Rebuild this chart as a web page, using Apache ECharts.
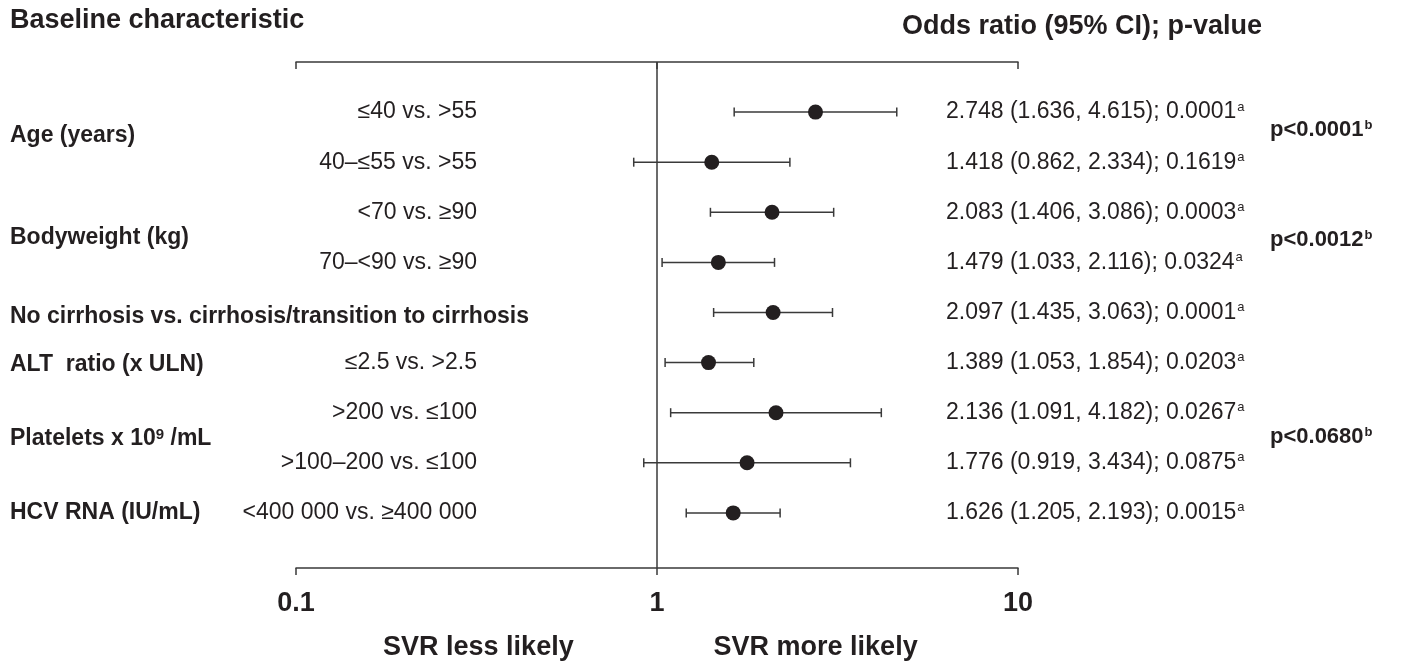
<!DOCTYPE html>
<html><head><meta charset="utf-8">
<script src="https://cdn.jsdelivr.net/npm/echarts@6/dist/echarts.min.js"></script>
<style>html,body{margin:0;padding:0;background:#fff}#c{width:1403px;height:661px}</style>
</head><body><div id="c"></div>
<script>
// ---- data ----
const subLabels = ['≤40 vs. >55','40–≤55 vs. >55','<70 vs. ≥90','70–<90 vs. ≥90','','≤2.5 vs. >2.5','>200 vs. ≤100','>100–200 vs. ≤100','<400 000 vs. ≥400 000'];
const oddsRatio = [2.748,1.418,2.083,1.479,2.097,1.389,2.136,1.776,1.626];
const ciLow     = [1.636,0.862,1.406,1.033,1.435,1.053,1.091,0.919,1.205];
const ciHigh    = [4.615,2.334,3.086,2.116,3.063,1.854,4.182,3.434,2.193];
const pValues   = ['0.0001','0.1619','0.0003','0.0324','0.0001','0.0203','0.0267','0.0875','0.0015'];
const groupNames = ['Age (years)','Bodyweight (kg)','No cirrhosis vs. cirrhosis/transition to cirrhosis','ALT  ratio (x ULN)','Platelets x 10{s|9} /mL','HCV RNA (IU/mL)'];
const groupRows  = [0.48,2.5,4.08,5.05,6.52,8];
const overallP   = ['p<0.0001','p<0.0012','p<0.0680'];
const overallRows= [0.36,2.56,6.48];
const xTicks = [0.1,1,10];

const INK = '#231f20';
const FAM = 'Liberation Sans';
const FONT = '"Liberation Sans", Arial, Helvetica, sans-serif';
const chart = echarts.init(document.getElementById('c'), null, {renderer:'canvas'});
const rows = oddsRatio.map((v,i)=>i);

const axisCommon = {
  type:'log', logBase:10, min:xTicks[0], max:xTicks[xTicks.length-1],
  splitLine:{show:false}, minorTick:{show:false}, minorSplitLine:{show:false},
  axisLine:{show:true, onZero:false, lineStyle:{color:'#3a3a3a', width:1.5}}
};
chart.setOption({
  animation:false,
  grid:{left:296, right:385, top:62, bottom:93},
  xAxis:[
    Object.assign({}, axisCommon, {position:'bottom',
      axisTick:{show:true, inside:false, length:7, lineStyle:{color:'#3a3a3a', width:1.5}},
      axisLabel:{show:true, margin:22, color:INK, fontFamily:FAM, fontWeight:'bold', fontSize:27,
        formatter:v=>String(v)}}),
    Object.assign({}, axisCommon, {position:'top',
      axisTick:{show:true, inside:true, length:7, lineStyle:{color:'#3a3a3a', width:1.5}},
      axisLabel:{show:false}})
  ],
  yAxis:{type:'value', min:-1, max:9.1, inverse:true, show:false, splitLine:{show:false}},
  series:[
    {type:'custom', xAxisIndex:0,
      data: rows.map(i=>[ciLow[i], ciHigh[i], i]),
      renderItem:(params, api)=>{
        const p1 = api.coord([api.value(0), api.value(2)]);
        const p2 = api.coord([api.value(1), api.value(2)]);
        const st = {stroke:'#3a3a3a', lineWidth:1.5};
        const c = 4.5;
        return {type:'group', children:[
          {type:'line', shape:{x1:p1[0],y1:p1[1],x2:p2[0],y2:p2[1]}, style:st},
          {type:'line', shape:{x1:p1[0],y1:p1[1]-c,x2:p1[0],y2:p1[1]+c}, style:st},
          {type:'line', shape:{x1:p2[0],y1:p2[1]-c,x2:p2[0],y2:p2[1]+c}, style:st}
        ]};
      },
      markLine:{silent:true, symbol:'none', label:{show:false},
        lineStyle:{color:'#3a3a3a', width:1.5, type:'solid'},
        data:[{xAxis:1}]}
    },
    {type:'scatter', xAxisIndex:0, symbol:'circle', symbolSize:15,
      itemStyle:{color:INK, opacity:1}, z:5,
      data: rows.map(i=>[oddsRatio[i], i])}
  ]
});

const yPix = r => chart.convertToPixel({yAxisIndex:0}, r);
const g = [];
const txt = (x,y,text,opt)=>g.push({type:'text', x:x, y:y, z:10, style:Object.assign({
  text:text, fill:INK, font:'23px '+FONT, textVerticalAlign:'middle', textAlign:'left'}, opt||{})});

txt(10, 21, 'Baseline characteristic', {font:'bold 27px '+FONT});
txt(1262, 27, 'Odds ratio (95% CI); p-value', {font:'bold 27px '+FONT, textAlign:'right'});

subLabels.forEach((s,i)=>{ if(s) txt(477, yPix(i), s, {textAlign:'right'}); });

groupNames.forEach((s,i)=>{
  txt(10, yPix(groupRows[i]), s, {font:'bold 23px '+FONT,
    rich:{s:{fontFamily:FAM, fontWeight:'bold', fontSize:15, verticalAlign:'top', lineHeight:15, padding:[0,0,10,0]}}});
});

rows.forEach(i=>{
  const t = oddsRatio[i].toFixed(3)+' ('+ciLow[i].toFixed(3)+', '+ciHigh[i].toFixed(3)+'); '+pValues[i]+'{a|a}';
  txt(946, yPix(i), t, {rich:{a:{fontFamily:FAM, fontSize:13, verticalAlign:'top', lineHeight:13, padding:[0,0,11,1], fill:INK}}});
});

overallP.forEach((s,i)=>{
  txt(1270, yPix(overallRows[i]), s+'{b|b}', {font:'bold 22px '+FONT,
    rich:{b:{fontFamily:FAM, fontWeight:'bold', fontSize:13, verticalAlign:'top', lineHeight:13, padding:[0,0,10,1], fill:INK}}});
});

const xPix = v => chart.convertToPixel({xAxisIndex:0}, v);
txt(xPix(0.32), 648, 'SVR less likely', {font:'bold 27px '+FONT, textAlign:'center'});
txt(xPix(2.75), 648, 'SVR more likely', {font:'bold 27px '+FONT, textAlign:'center'});

chart.setOption({graphic:g});
</script></body></html>
